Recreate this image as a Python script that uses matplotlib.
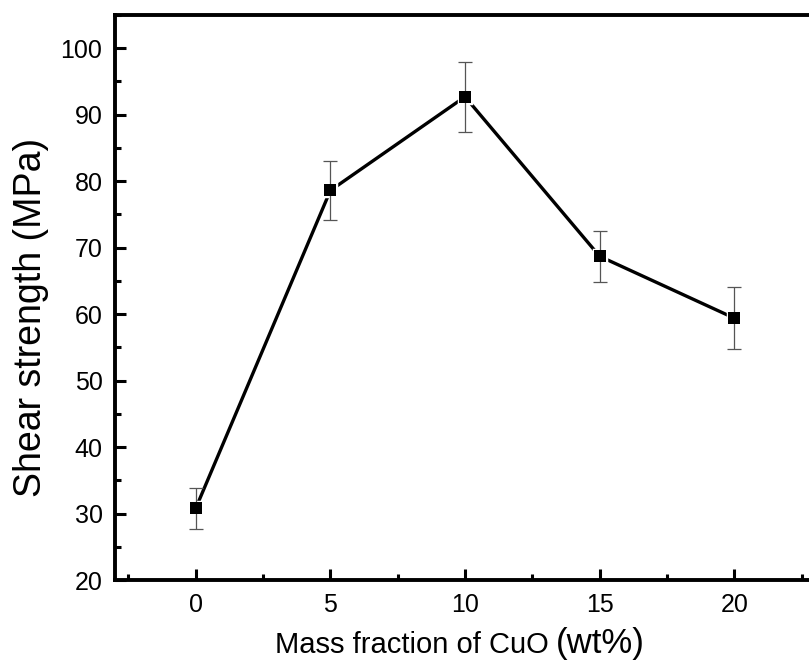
import matplotlib
matplotlib.use("Agg")
import matplotlib.pyplot as plt
from matplotlib.ticker import MultipleLocator

plt.rcParams["font.family"] = ["Liberation Sans", "DejaVu Sans"]

# data
cuo = [0, 5, 10, 15, 20]
shear = [30.8, 78.6, 92.7, 68.7, 59.4]
err = [3.1, 4.5, 5.3, 3.8, 4.7]

W, H = 809, 662
fig = plt.figure(figsize=(W / 100, H / 100), dpi=100)

# right side of the frame is cut off in the original
left, right, top, bottom = 115, 815, 15, 580
ax = fig.add_axes([left / W, 1 - bottom / H, (right - left) / W, (bottom - top) / H])

ax.plot(cuo, shear, color="black", lw=2.4, zorder=1)
ax.plot(cuo, shear, "s", ms=8, color="black", mec="white", mew=2.5, zorder=2)
ax.errorbar(cuo, shear, yerr=err, fmt="none", ecolor="#555555", elinewidth=0.9,
            capsize=5, capthick=0.9, zorder=3)
ax.plot(cuo, shear, "s", ms=8, color="black", mew=0, zorder=4)

ax.set_xlim(-3, 23)
ax.set_ylim(20, 105)
ax.xaxis.set_major_locator(MultipleLocator(5))
ax.xaxis.set_minor_locator(MultipleLocator(2.5))
ax.yaxis.set_minor_locator(MultipleLocator(5))
ax.set_yticks(range(20, 101, 10))

for s in ax.spines.values():
    s.set_linewidth(2.8)
ax.spines["right"].set_visible(False)
ax.tick_params(which="major", direction="in", length=8, width=2.2, labelsize=18, pad=9)
ax.tick_params(which="minor", direction="in", length=4, width=2.2)
ax.tick_params(axis="y", which="both", right=False)
ax.tick_params(axis="x", which="both", top=False)

fig.text(31 / W, 1 - 317 / H, "Shear strength (MPa)", rotation=90,
         ha="center", va="center", fontsize=27)

# x label with larger unit part
t1 = fig.text(275 / W, 1 - 653 / H, "Mass fraction of CuO", fontsize=21,
              ha="left", va="baseline")
fig.canvas.draw()
bb = t1.get_window_extent()
fig.text((bb.x1 + 7) / W, 1 - 653 / H, "(wt%)", fontsize=25, ha="left", va="baseline")

fig.savefig("out.png", dpi=100)
